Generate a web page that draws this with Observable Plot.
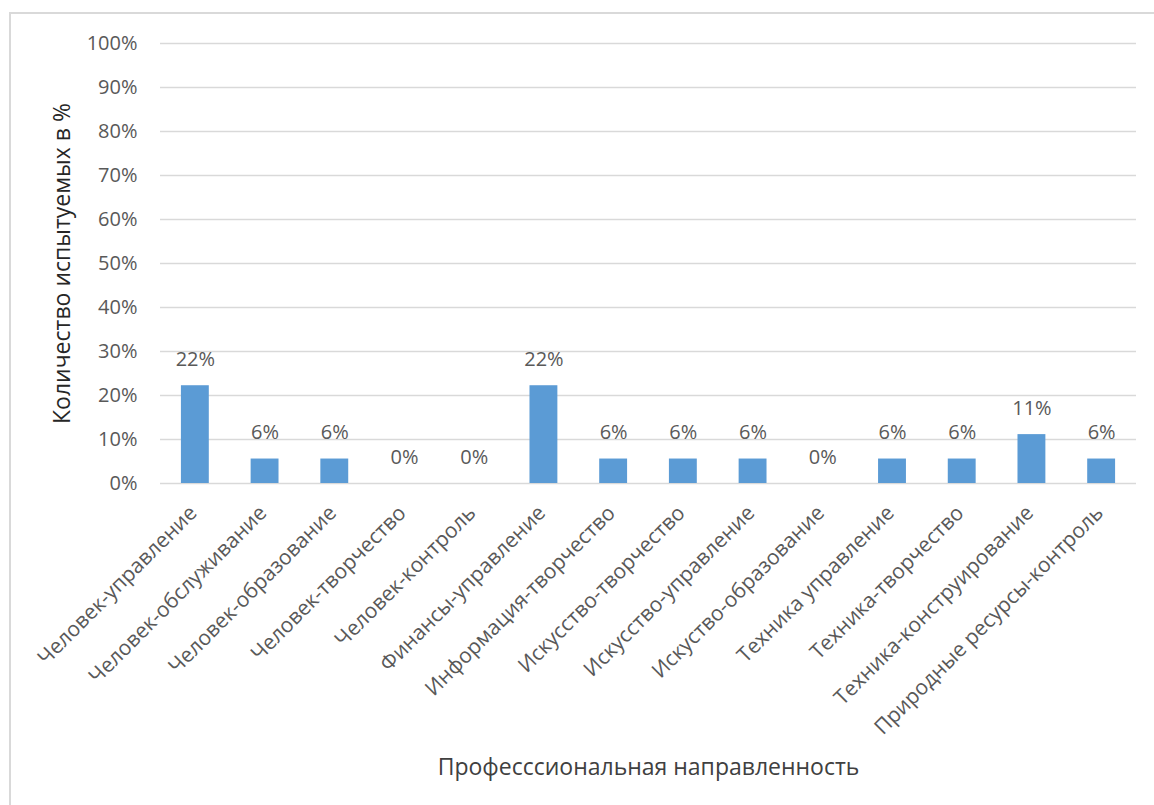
<!DOCTYPE html>
<html>
<head>
<meta charset="utf-8">
<script src="https://cdn.jsdelivr.net/npm/d3@7"></script>
<script src="https://cdn.jsdelivr.net/npm/@observablehq/plot@0.6"></script>
<style>
  html, body { margin: 0; padding: 0; background: #fff; overflow: hidden; }
  #chart { position: absolute; left: 0; top: 0; }
  #border { position: absolute; left: 9px; top: 12px; width: 1300px; height: 1000px;
            border: 2px solid #d9d9d9; pointer-events: none; }
</style>
</head>
<body>
<div id="chart"></div>
<div id="border"></div>
<script>
const categories = [
  "Человек-управление",
  "Человек-обслуживание",
  "Человек-образование",
  "Человек-творчество",
  "Человек-контроль",
  "Финансы-управление",
  "Информация-творчество",
  "Искусство-творчество",
  "Искусство-управление",
  "Искуство-образование",
  "Техника управление",
  "Техника-творчество",
  "Техника-конструирование",
  "Природные ресурсы-контроль"
];
const values = [0.2222, 0.0556, 0.0556, 0, 0, 0.2222, 0.0556, 0.0556, 0.0556, 0, 0.0556, 0.0556, 0.1111, 0.0556];
const yTicks = [0, 0.1, 0.2, 0.3, 0.4, 0.5, 0.6, 0.7, 0.8, 0.9, 1.0];
const xTitle = "Професссиональная направленность";
const yTitle = "Количество испытуемых в %";

const fmt = d3.format(".0%");
const data = categories.map((c, i) => ({category: c, value: values[i]}));

const chart = Plot.plot({
  width: 1154,
  height: 805,
  marginTop: 43,
  marginBottom: 322,
  marginLeft: 160,
  marginRight: 18,
  style: {fontFamily: "'Open Sans', sans-serif", fontSize: "20px", color: "#595959", background: "white"},
  x: {domain: categories, paddingInner: 0.6, paddingOuter: 0.3, round: false, label: null},
  y: {domain: [0, 1], label: null},
  marks: [
    Plot.ruleY(yTicks, {stroke: "#d9d9d9", strokeWidth: 1.6}),
    Plot.barY(data, {x: "category", y: "value", fill: "#5B9BD5"}),
    Plot.text(data, {x: "category", y: "value", text: d => fmt(d.value), dy: -26, fill: "#595959", fontSize: 20}),
    Plot.axisY({ticks: yTicks, tickFormat: fmt, tickSize: 0, tickPadding: 23, fontSize: 20, label: null}),
    Plot.axisX({tickRotate: -45, tickSize: 0, tickPadding: 26, dx: -2, fontSize: 21, label: null}),
    Plot.text([yTitle], {frameAnchor: "left", textAnchor: "middle", lineAnchor: "middle", dx: -98, rotate: -90, fontSize: 23, fill: "#262626"}),
    Plot.text([xTitle], {frameAnchor: "bottom", lineAnchor: "middle", dy: 284, fontSize: 23, fill: "#404040"})
  ]
});
document.getElementById("chart").appendChild(chart);
</script>
</body>
</html>
